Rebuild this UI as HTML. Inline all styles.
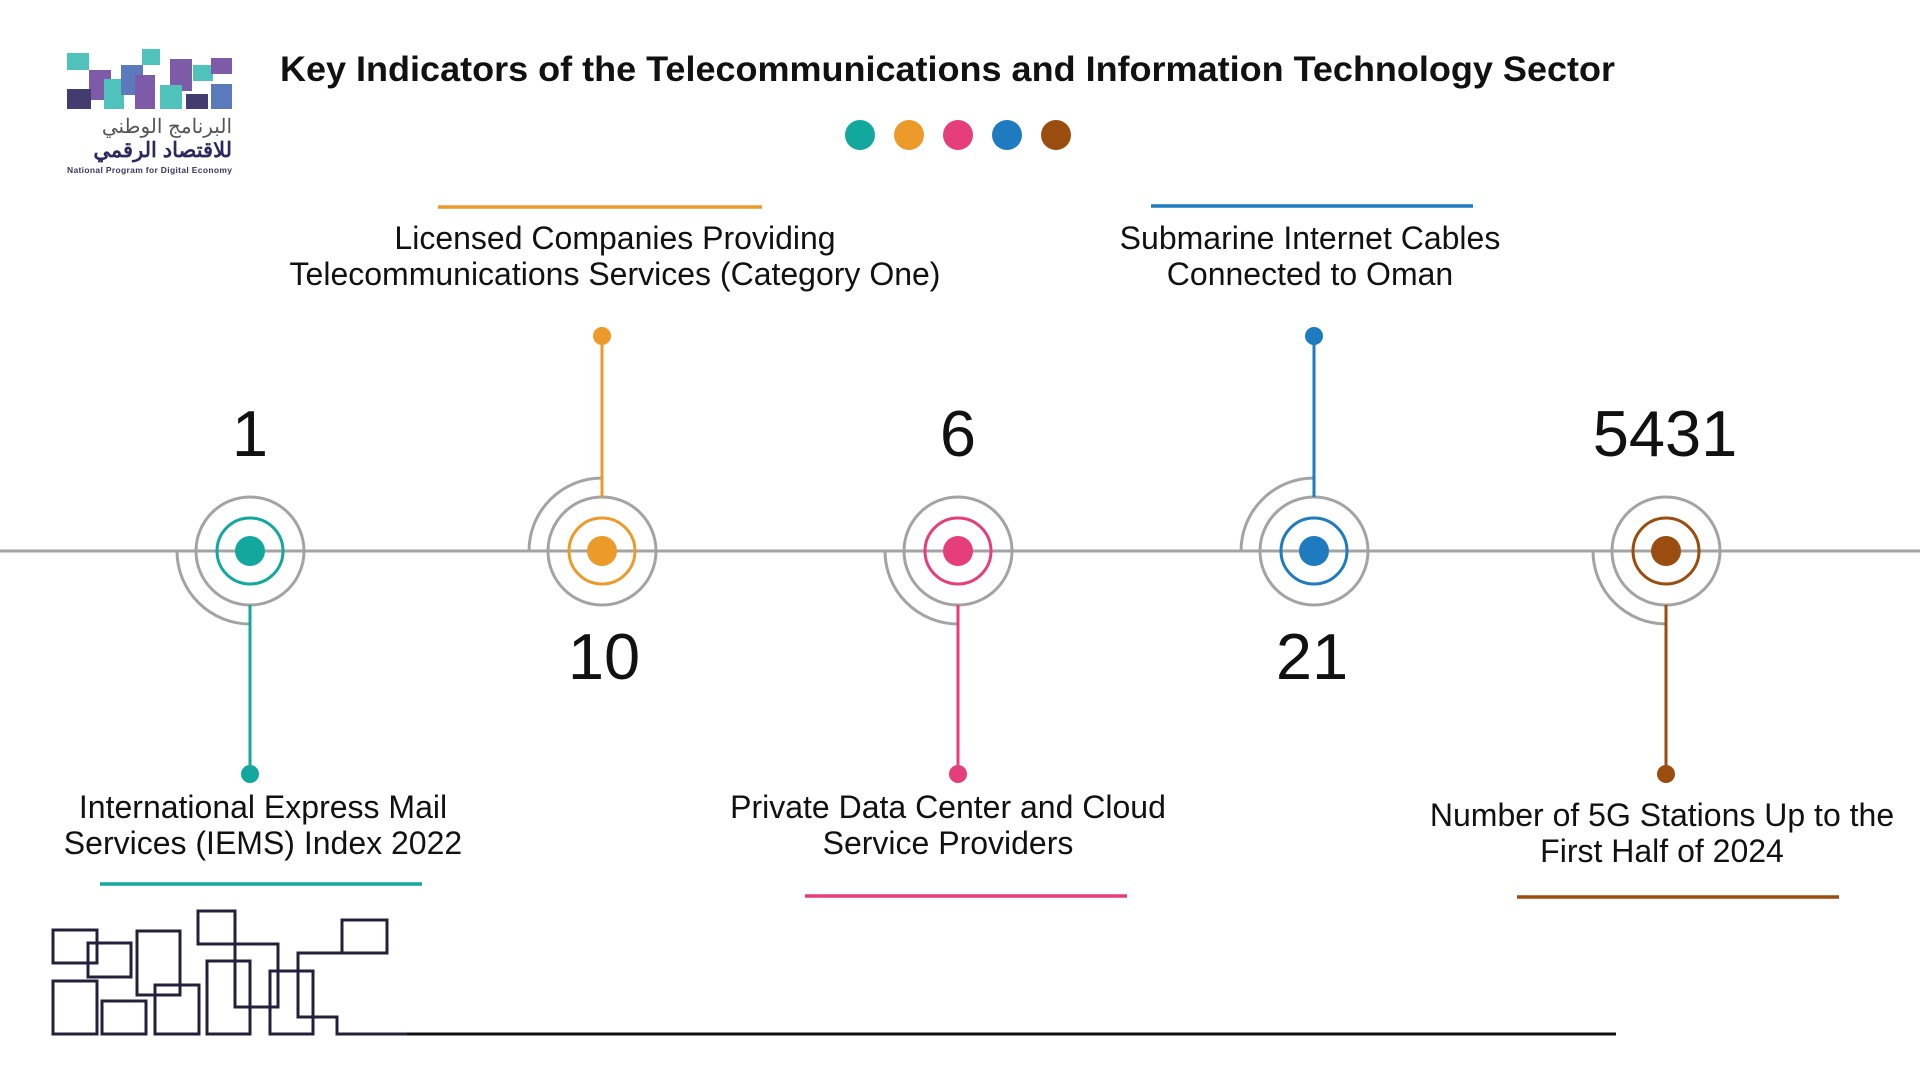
<!DOCTYPE html>
<html><head><meta charset="utf-8"><style>
html,body{margin:0;padding:0;background:#fff;}
svg{display:block;}
text{font-family:"Liberation Sans",Arial,sans-serif;}
</style></head><body>
<svg width="1920" height="1080" viewBox="0 0 1920 1080" xmlns="http://www.w3.org/2000/svg">
<!-- logo -->
<g opacity="0.9">
<rect x="67" y="53" width="22" height="17" fill="#3cbcb4"/>
<rect x="142" y="49" width="18" height="16" fill="#3cbcb4"/>
<rect x="89" y="70" width="22" height="30" fill="#6f4aa0"/>
<rect x="104" y="79" width="20" height="30" fill="#3cbcb4"/>
<rect x="121" y="65" width="22" height="30" fill="#4a6cb4"/>
<rect x="135" y="75" width="20" height="34" fill="#6f4aa0"/>
<rect x="170" y="59" width="22" height="32" fill="#6f4aa0"/>
<rect x="160" y="85" width="22" height="24" fill="#3cbcb4"/>
<rect x="193" y="65" width="20" height="16" fill="#3cbcb4"/>
<rect x="211" y="58" width="21" height="16" fill="#6f4aa0"/>
<rect x="67" y="89" width="24" height="20" fill="#2e2860"/>
<rect x="186" y="94" width="22" height="15" fill="#2e2860"/>
<rect x="211" y="84" width="21" height="25" fill="#4a6cb4"/>
</g>
<text x="232" y="133" font-size="20" fill="#555" text-anchor="end" font-family="Noto Sans CJK SC, sans-serif">البرنامج الوطني</text>
<text x="232" y="157" font-size="21" font-weight="bold" fill="#2e2860" text-anchor="end">للاقتصاد الرقمي</text>
<text x="67" y="173" font-size="8.5" font-weight="bold" fill="#3a3560" textLength="165">National Program for Digital Economy</text>
<!-- title -->
<text x="280" y="81" font-size="35" font-weight="bold" fill="#111" textLength="1335" lengthAdjust="spacingAndGlyphs">Key Indicators of the Telecommunications and Information Technology Sector</text>
<circle cx="860" cy="135" r="15" fill="#13a89e"/>
<circle cx="909" cy="135" r="15" fill="#ec9a2a"/>
<circle cx="958" cy="135" r="15" fill="#e63e7a"/>
<circle cx="1007" cy="135" r="15" fill="#1f7bbf"/>
<circle cx="1056" cy="135" r="15" fill="#9a4d0e"/>
<!-- timeline -->
<line x1="0" y1="551" x2="1920" y2="551" stroke="#a3a3a3" stroke-width="3"/>
<g fill="none" stroke="#a3a3a3" stroke-width="3">
<circle cx="250" cy="551" r="54" fill="#fff"/>
<path d="M177 551 A73 73 0 0 0 250 624"/>
<circle cx="602" cy="551" r="54" fill="#fff"/>
<path d="M529 551 A73 73 0 0 1 602 478"/>
<circle cx="958" cy="551" r="54" fill="#fff"/>
<path d="M885 551 A73 73 0 0 0 958 624"/>
<circle cx="1314" cy="551" r="54" fill="#fff"/>
<path d="M1241 551 A73 73 0 0 1 1314 478"/>
<circle cx="1666" cy="551" r="54" fill="#fff"/>
<path d="M1593 551 A73 73 0 0 0 1666 624"/>
</g>
<line x1="150" y1="551" x2="350" y2="551" stroke="#a3a3a3" stroke-width="3"/>
<line x1="502" y1="551" x2="702" y2="551" stroke="#a3a3a3" stroke-width="3"/>
<line x1="858" y1="551" x2="1058" y2="551" stroke="#a3a3a3" stroke-width="3"/>
<line x1="1214" y1="551" x2="1414" y2="551" stroke="#a3a3a3" stroke-width="3"/>
<line x1="1566" y1="551" x2="1766" y2="551" stroke="#a3a3a3" stroke-width="3"/>
<g stroke="#13a89e" stroke-width="3" fill="none"><circle cx="250" cy="551" r="33"/><line x1="250" y1="605" x2="250" y2="774"/></g>
<circle cx="250" cy="551" r="15" fill="#13a89e"/><circle cx="250" cy="774" r="9" fill="#13a89e"/>
<g stroke="#ec9a2a" stroke-width="3" fill="none"><circle cx="602" cy="551" r="33"/><line x1="602" y1="497" x2="602" y2="336"/></g>
<circle cx="602" cy="551" r="15" fill="#ec9a2a"/><circle cx="602" cy="336" r="9" fill="#ec9a2a"/>
<g stroke="#e63e7a" stroke-width="3" fill="none"><circle cx="958" cy="551" r="33"/><line x1="958" y1="605" x2="958" y2="774"/></g>
<circle cx="958" cy="551" r="15" fill="#e63e7a"/><circle cx="958" cy="774" r="9" fill="#e63e7a"/>
<g stroke="#1f7bbf" stroke-width="3" fill="none"><circle cx="1314" cy="551" r="33"/><line x1="1314" y1="497" x2="1314" y2="336"/></g>
<circle cx="1314" cy="551" r="15" fill="#1f7bbf"/><circle cx="1314" cy="336" r="9" fill="#1f7bbf"/>
<g stroke="#9a4d0e" stroke-width="3" fill="none"><circle cx="1666" cy="551" r="33"/><line x1="1666" y1="605" x2="1666" y2="774"/></g>
<circle cx="1666" cy="551" r="15" fill="#9a4d0e"/><circle cx="1666" cy="774" r="9" fill="#9a4d0e"/>
<!-- numbers -->
<g font-size="65" fill="#111" text-anchor="middle">
<text x="250" y="456">1</text>
<text x="604" y="679">10</text>
<text x="958" y="456">6</text>
<text x="1312" y="679">21</text>
<text x="1665" y="456">5431</text>
</g>
<!-- labels -->
<g font-size="32" fill="#111" text-anchor="middle">
<text x="615" y="249">Licensed Companies Providing</text>
<text x="615" y="285">Telecommunications Services (Category One)</text>
<text x="1310" y="249">Submarine Internet Cables</text>
<text x="1310" y="285">Connected to Oman</text>
<text x="263" y="818">International Express Mail</text>
<text x="263" y="854">Services (IEMS) Index 2022</text>
<text x="948" y="818">Private Data Center and Cloud</text>
<text x="948" y="854">Service Providers</text>
<text x="1662" y="826">Number of 5G Stations Up to the</text>
<text x="1662" y="862">First Half of 2024</text>
</g>
<g stroke-width="3.5">
<line x1="438" y1="207" x2="762" y2="207" stroke="#ec9a2a"/>
<line x1="1151" y1="206" x2="1473" y2="206" stroke="#1f7bbf"/>
<line x1="100" y1="884" x2="422" y2="884" stroke="#13a89e"/>
<line x1="805" y1="896" x2="1127" y2="896" stroke="#e63e7a"/>
<line x1="1517" y1="897" x2="1839" y2="897" stroke="#9a4d0e"/>
</g>
<!-- bottom boxes -->
<g fill="none" stroke="#23213a" stroke-width="3">
<rect x="53" y="930" width="44" height="33"/>
<rect x="88" y="943" width="43" height="34"/>
<rect x="137" y="931" width="43" height="64"/>
<rect x="53" y="981" width="44" height="53"/>
<rect x="102" y="1001" width="44" height="33"/>
<rect x="155" y="985" width="44" height="49"/>
<rect x="198" y="911" width="37" height="33"/>
<polyline points="235,944 278,944 278,1007 235,1007 235,944"/>
<rect x="207" y="961" width="43" height="73"/>
<rect x="270" y="971" width="43" height="63"/>
<rect x="342" y="920" width="45" height="33"/>
<polyline points="342,953 298,953 298,1017 337,1017 337,1034 410,1034"/>
</g>
<line x1="407" y1="1034" x2="1616" y2="1034" stroke="#111" stroke-width="3"/>
</svg>
</body></html>
